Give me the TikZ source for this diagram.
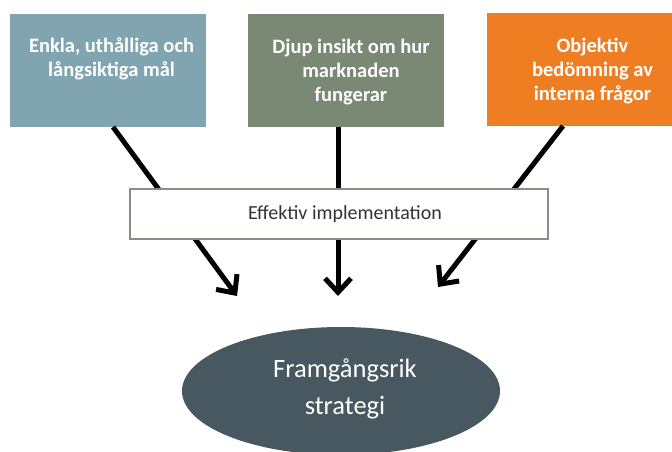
\documentclass[tikz,border=0pt]{standalone}
\usepackage{fontspec}
\setmainfont{Carlito}
\usetikzlibrary{arrows.meta,calc,shapes.geometric}
\definecolor{goalblue}{RGB}{128,165,177}
\definecolor{marketgreen}{RGB}{122,137,116}
\definecolor{assessorange}{RGB}{239,125,34}
\definecolor{strategyslate}{RGB}{72,88,96}
\definecolor{implframe}{RGB}{132,145,126}
\tikzset{
  x=1pt, y=-1pt,
  topbox/.style={rectangle, minimum width=196pt, minimum height=113pt, inner sep=0pt, draw=none},
  boxtext/.style={text=white, font=\bfseries\fontsize{20.5}{24}\selectfont, align=center, anchor=north, inner sep=0pt},
  implbox/.style={rectangle, draw=implframe, line width=1.5pt, fill=white, minimum width=418pt, minimum height=50pt, inner sep=0pt},
  impltext/.style={text=black!80, font=\fontsize{20}{24}\selectfont, inner sep=0pt},
  goalbox/.style={ellipse, fill=strategyslate, minimum width=318pt, minimum height=128pt, inner sep=0pt},
  goaltext/.style={text=white, align=center, inner sep=0pt, font=\fontsize{26.5}{37}\selectfont},
  flow/.style={line width=5pt, -{Straight Barb[length=14pt,width=26pt]}},
}
\begin{document}
\begin{tikzpicture}
\useasboundingbox (0,0) rectangle (672,452);
\clip (0,0) rectangle (672,452);

% three input factors
\node[topbox, fill=goalblue] (b1) at (108,70.5) {};
\node[topbox, fill=marketgreen] (b2) at (346,70.5) {};
\node[topbox, fill=assessorange, minimum width=200pt] (b3) at (587,69.5) {};

\node[boxtext] (t1) at (111.5,37.5) {Enkla, uthålliga och\\långsiktiga mål};
\node[boxtext] (t2) at (351,38.5) {Djup insikt om hur\\marknaden\\fungerar};
\node[boxtext] (t3) at (592.5,38) {Objektiv\\bedömning av\\interna frågor};

% arrow start and end points
\coordinate (s1) at (113,127);
\coordinate (s2) at (338,127);
\coordinate (s3) at (563,126);
\coordinate (e1) at (237,296);
\coordinate (e2) at (338,296);
\coordinate (e3) at (438,287);

\draw[flow] (s1) -- (e1);
\draw[flow] (s2) -- (e2);
\draw[flow] (s3) -- (e3);

% implementation bar across the arrows
\node[implbox] (impl) at (339,214) {};
\node[impltext] (implt) at (345,214) {Effektiv implementation};

% result
\node[goalbox] (goal) at (341,391) {};
\node[goaltext] (goalt) at (345,389) {Framgångsrik\\strategi};
\end{tikzpicture}
\end{document}
